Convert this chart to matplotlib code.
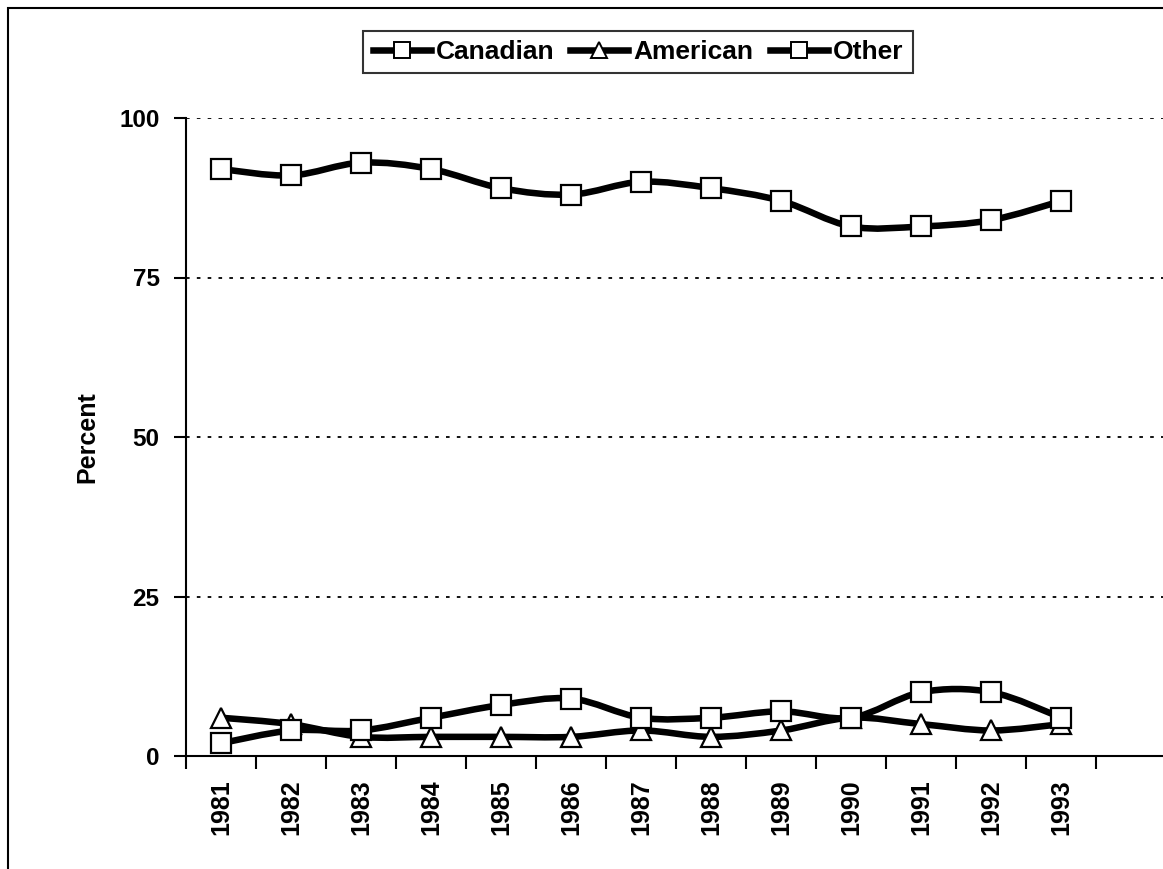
import matplotlib.pyplot as plt
import numpy as np
from matplotlib.path import Path
from matplotlib.patches import PathPatch
from matplotlib.lines import Line2D

years = ["1981", "1982", "1983", "1984", "1985", "1986", "1987",
         "1988", "1989", "1990", "1991", "1992", "1993"]
canadian = [92, 91, 93, 92, 89, 88, 90, 89, 87, 83, 83, 84, 87]
american = [6, 5, 3, 3, 3, 3, 4, 3, 4, 6, 5, 4, 5]
other = [2, 4, 4, 6, 8, 9, 6, 6, 7, 6, 10, 10, 6]

plt.rcParams['font.family'] = ['Liberation Sans', 'DejaVu Sans']
plt.rcParams['font.weight'] = 'bold'

fig = plt.figure(figsize=(11.63, 8.69), dpi=100)
ax = fig.add_axes([186/1163, 1-756/869, (1163-186)/1163, (756-118)/869])

# outer frame of the chart area (bottom runs off the image)
fig.patches.append(plt.Rectangle((8/1163, -0.1), 1.2, 1.1-8/869, transform=fig.transFigure,
                                 fill=False, edgecolor='black', lw=1.5))


def smooth_path(xs, ys):
    # excel-like smoothed line: cubic bezier through the points
    pts = np.column_stack([xs, ys]).astype(float)
    verts = [pts[0]]
    codes = [Path.MOVETO]
    n = len(pts)
    for i in range(n - 1):
        p0 = pts[max(i - 1, 0)]
        p1 = pts[i]
        p2 = pts[i + 1]
        p3 = pts[min(i + 2, n - 1)]
        c1 = p1 + (p2 - p0) / 6
        c2 = p2 - (p3 - p1) / 6
        verts += [c1, c2, p2]
        codes += [Path.CURVE4] * 3
    return Path(verts, codes)


x = np.arange(len(years))
lw = 4.7
series = [(canadian, 's', 'Canadian'), (american, '^', 'American'), (other, 's', 'Other')]
handles = []
for vals, mk, name in series:
    ax.add_patch(PathPatch(smooth_path(x, vals), fill=False, edgecolor='black', lw=lw,
                           capstyle='round', joinstyle='round', zorder=2))
    ax.plot(x, vals, ls='none', marker=mk, markersize=15, markerfacecolor='white',
            markeredgecolor='black', markeredgewidth=1.6, zorder=3)
    handles.append(Line2D([], [], color='black', lw=lw, marker=mk, markersize=11,
                          markerfacecolor='white', markeredgecolor='black',
                          markeredgewidth=1.4, label=name))

ax.set_xlim(-0.5, len(years) + 0.5 - 0.05)
ax.set_ylim(0, 100)
ax.set_yticks([0, 25, 50, 75, 100])
for v in [25, 50, 75, 100]:
    ax.axhline(v, color='black', lw=1.3, ls=(0, (2, 4)), zorder=0)

ax.set_xticks(np.arange(len(years) + 1) - 0.5)
ax.set_xticklabels([])
ax.set_xticks(x, minor=True)
ax.set_xticklabels(years, minor=True, rotation=90, fontsize=18, fontweight='bold')
ax.tick_params(axis='x', which='major', direction='out', length=9, width=1.5)
ax.tick_params(axis='x', which='minor', length=0, pad=17)
ax.tick_params(axis='y', direction='out', length=9, width=1.5, labelsize=17.5, pad=10)
for lab in ax.get_yticklabels():
    lab.set_fontweight('bold')

ax.spines['top'].set_visible(False)
ax.spines['right'].set_visible(False)
ax.spines['left'].set_linewidth(1.5)
ax.spines['bottom'].set_linewidth(1.5)
ax.set_ylabel('Percent', fontsize=18, fontweight='bold', labelpad=14)

leg = fig.legend(handles=handles, loc='center', bbox_to_anchor=(638/1163, 1-52/869), ncol=3,
                 frameon=True, fancybox=False, edgecolor='black', handlelength=2.2,
                 handletextpad=0.2, columnspacing=0.6, borderpad=0.35,
                 prop={'size': 19, 'weight': 'bold'})
leg.get_frame().set_linewidth(1.5)

fig.savefig('out.png', dpi=100)
